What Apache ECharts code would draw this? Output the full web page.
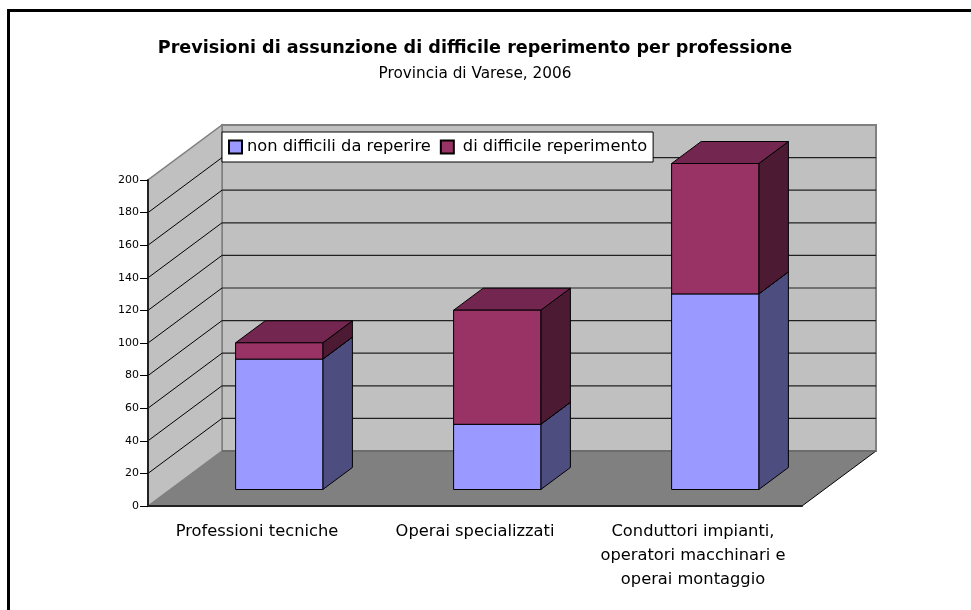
<!DOCTYPE html>
<html>
<head>
<meta charset="utf-8">
<style>
html, body { margin: 0; padding: 0; background: #fff; }
#chart { width: 971px; height: 610px; }
</style>
<script src="https://cdn.jsdelivr.net/npm/echarts@6/dist/echarts.min.js"></script>
</head>
<body>
<div id="chart"></div>
<script>
'use strict';

var categories = [
    'Professioni tecniche',
    'Operai specializzati',
    'Conduttori impianti,\noperatori macchinari e\noperai montaggio'
];
var nonDifficili = [80, 40, 120];
var difficili = [10, 70, 80];
var yTicks = [20, 40, 60, 80, 100, 120, 140, 160, 180];

var FONT = 'DejaVu Sans';
// 3d look of the excel chart: full depth of the box, bars sit between 30% and 70% of it
var DEPTH_X = 74, DEPTH_Y = -55;
var BAR_NEAR = 0.3, BAR_FAR = 0.7, BAR_WIDTH = 0.4;

function poly(points, fill, stroke, lineWidth) {
    return {
        type: 'polygon',
        shape: { points: points },
        style: { fill: fill, stroke: stroke || null, lineWidth: lineWidth || 0 }
    };
}

function line(x1, y1, x2, y2, stroke, lineWidth) {
    return {
        type: 'line',
        shape: { x1: x1, y1: y1, x2: x2, y2: y2 },
        style: { stroke: stroke, lineWidth: lineWidth || 1 }
    };
}

function renderWalls(params, api) {
    var box = params.coordSys;
    var x0 = box.x, x1 = box.x + box.width;
    var yb = api.coord([0, 0])[1], yt = api.coord([0, 200])[1];
    var dx = DEPTH_X, dy = DEPTH_Y;
    return {
        type: 'group',
        children: [
            poly([[x0 + dx, yt + dy], [x1 + dx, yt + dy], [x1 + dx, yb + dy], [x0 + dx, yb + dy]], '#c0c0c0', '#808080', 2),
            poly([[x0, yb], [x1, yb], [x1 + dx, yb + dy], [x0 + dx, yb + dy]], '#808080'),
            poly([[x0, yb], [x0, yt], [x0 + dx, yt + dy], [x0 + dx, yb + dy]], '#c0c0c0', '#808080', 1.5),
            line(x1, yb, x1 + dx, yb + dy, '#000', 1),
            line(x0 + dx, yb + dy, x1 + dx, yb + dy, '#666', 1.5)
        ]
    };
}

function renderGridline(params, api) {
    var box = params.coordSys;
    var x0 = box.x, x1 = box.x + box.width;
    var y = api.coord([0, api.value(0)])[1];
    return {
        type: 'group',
        children: [
            line(x0, y, x0 + DEPTH_X, y + DEPTH_Y, '#000', 1),
            line(x0 + DEPTH_X, y + DEPTH_Y, x1 + DEPTH_X, y + DEPTH_Y, '#222', 1.2)
        ]
    };
}

function getBarRenderer(front, top, side) {
    return function (params, api) {
        var c = api.value(0);
        var low = api.coord([c, api.value(1)]);
        var high = api.coord([c, api.value(2)]);
        var w = api.size([1, 0])[0] * BAR_WIDTH;
        var ox = DEPTH_X * BAR_NEAR, oy = DEPTH_Y * BAR_NEAR;
        var bx = DEPTH_X * (BAR_FAR - BAR_NEAR), by = DEPTH_Y * (BAR_FAR - BAR_NEAR);
        var l = low[0] - w / 2 + ox, r = l + w;
        var yb = low[1] + oy, yt = high[1] + oy;
        return {
            type: 'group',
            children: [
                poly([[r, yb], [r + bx, yb + by], [r + bx, yt + by], [r, yt]], side, '#000', 1),
                poly([[l, yt], [r, yt], [r + bx, yt + by], [l + bx, yt + by]], top, '#000', 1),
                poly([[l, yb], [r, yb], [r, yt], [l, yt]], front, '#000', 1)
            ]
        };
    };
}

var lowData = categories.map(function (name, i) {
    return [i, 0, nonDifficili[i]];
});
var highData = categories.map(function (name, i) {
    return [i, nonDifficili[i], nonDifficili[i] + difficili[i]];
});

var chart = echarts.init(document.getElementById('chart'));
chart.setOption({
    animation: false,
    backgroundColor: '#fff',
    textStyle: { fontFamily: FONT, color: '#000' },
    graphic: [{
        type: 'polyline',
        silent: true,
        z: -10,
        shape: { points: [[8.5, 610], [8.5, 10.5], [971, 10.5]] },
        style: { fill: null, stroke: '#000', lineWidth: 3 }
    }],
    title: {
        text: 'Previsioni di assunzione di difficile reperimento per professione',
        subtext: 'Provincia di Varese, 2006',
        left: 470,
        top: 34,
        textAlign: 'center',
        itemGap: 10,
        textStyle: { fontFamily: FONT, fontSize: 17.6, fontWeight: 'bold', color: '#000' },
        subtextStyle: { fontFamily: FONT, fontSize: 15.3, color: '#000' }
    },
    legend: {
        data: [
            { name: 'non difficili da reperire' },
            { name: 'di difficile reperimento', textStyle: { padding: [0, 0, 0, 4] } }
        ],
        left: 222,
        top: 132,
        padding: [7, 6, 7, 6],
        itemGap: 9,
        itemWidth: 13,
        itemHeight: 13,
        icon: 'rect',
        backgroundColor: '#fff',
        borderColor: '#000',
        borderWidth: 1,
        textStyle: { fontFamily: FONT, fontSize: 16.3, color: '#000' },
        selectedMode: false,
        z: 20
    },
    grid: { left: 148, top: 180, width: 654, height: 326 },
    xAxis: {
        type: 'category',
        data: categories,
        axisLine: { lineStyle: { color: '#222', width: 2 } },
        axisTick: { length: 7, lineStyle: { color: '#000' } },
        axisLabel: { color: '#000', fontFamily: FONT, fontSize: 16.3, lineHeight: 24, margin: 14, interval: 0 },
        z: 10
    },
    yAxis: {
        type: 'value',
        min: 0,
        max: 200,
        interval: 20,
        axisLine: { show: true, lineStyle: { color: '#222', width: 2 } },
        axisTick: { show: true, length: 8, lineStyle: { color: '#000' } },
        axisLabel: { color: '#000', fontFamily: FONT, fontSize: 11, margin: 9 },
        splitLine: { show: false },
        z: 10
    },
    series: [{
        type: 'custom',
        name: 'walls',
        silent: true,
        renderItem: renderWalls,
        data: [[0]],
        z: 1
    }, {
        type: 'custom',
        name: 'gridlines',
        silent: true,
        renderItem: renderGridline,
        data: yTicks.map(function (v) { return [v]; }),
        encode: { y: 0 },
        z: 2
    }, {
        type: 'custom',
        name: 'non difficili da reperire',
        renderItem: getBarRenderer('#9999ff', '#73739f', '#4d4d80'),
        data: lowData,
        encode: { x: 0, y: [1, 2] },
        itemStyle: { color: '#9999ff', borderColor: '#000', borderWidth: 1 },
        z: 3
    }, {
        type: 'custom',
        name: 'di difficile reperimento',
        renderItem: getBarRenderer('#993366', '#732650', '#4d1a33'),
        data: highData,
        encode: { x: 0, y: [1, 2] },
        itemStyle: { color: '#993366', borderColor: '#000', borderWidth: 1 },
        z: 4
    }]
});
</script>
</body>
</html>
